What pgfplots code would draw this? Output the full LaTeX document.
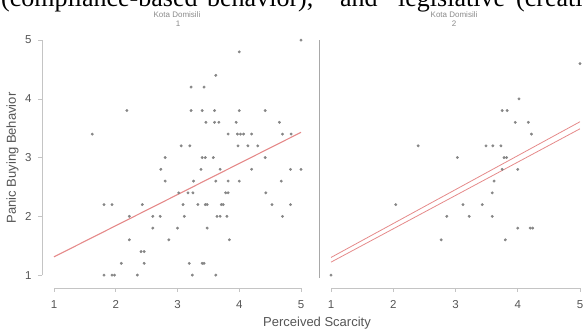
\documentclass[border=0pt]{standalone}
\usepackage{pgfplots}
\pgfplotsset{compat=1.18}
\usepackage{pgfplotstable}
\usepackage{fontspec}
\setmainfont{Liberation Sans}
\newfontfamily\seriffont{Liberation Serif}

\definecolor{ptgray}{HTML}{858585}
\definecolor{regred}{HTML}{E58A8A}
\definecolor{axgray}{HTML}{C4C4C4}
\definecolor{vgray}{HTML}{A8A8A8}
\definecolor{txtgray}{HTML}{555555}
\definecolor{ttlgray}{HTML}{8A8A8A}

\pgfplotstableread{
x y
5.00 5.0
4.00 4.8
3.62 4.4
3.22 4.2
3.43 4.2
2.18 3.8
3.22 3.8
3.40 3.8
3.60 3.8
4.00 3.8
4.42 3.8
3.46 3.6
3.60 3.6
3.67 3.6
3.95 3.6
4.65 3.6
1.62 3.4
3.82 3.4
3.97 3.4
4.02 3.4
4.07 3.4
4.20 3.4
4.70 3.4
4.84 3.4
3.06 3.2
3.20 3.2
3.98 3.2
4.14 3.2
4.30 3.2
2.80 3.0
3.40 3.0
3.45 3.0
3.58 3.0
4.42 3.0
2.73 2.8
3.38 2.8
3.69 2.8
4.20 2.8
4.83 2.8
5.00 2.8
2.80 2.6
3.26 2.6
3.62 2.6
3.82 2.6
4.00 2.6
4.68 2.6
3.02 2.4
3.17 2.4
3.25 2.4
3.78 2.4
3.82 2.4
4.43 2.4
1.81 2.2
1.94 2.2
2.43 2.2
3.09 2.2
3.33 2.2
3.45 2.2
3.48 2.2
3.71 2.2
3.74 2.2
4.53 2.2
4.83 2.2
2.22 2.0
2.60 2.0
2.72 2.0
3.11 2.0
3.64 2.0
3.69 2.0
3.80 2.0
4.70 2.0
2.60 1.8
3.00 1.8
3.48 1.8
2.22 1.6
2.86 1.6
3.84 1.6
2.41 1.4
2.46 1.4
2.09 1.2
2.46 1.2
3.19 1.2
3.40 1.2
3.43 1.2
1.81 1.0
1.94 1.0
1.98 1.0
2.35 1.0
3.24 1.0
3.62 1.0
}\leftdata

\pgfplotstableread{
x y
5.00 4.6
4.02 4.0
3.75 3.8
3.83 3.8
3.96 3.6
4.17 3.6
4.22 3.4
2.40 3.2
3.49 3.2
3.60 3.2
3.73 3.2
3.03 3.0
3.78 3.0
3.82 3.0
3.75 2.8
4.00 2.8
3.62 2.6
3.59 2.4
2.04 2.2
3.12 2.2
3.43 2.2
2.86 2.0
3.22 2.0
3.59 2.0
4.00 1.8
4.20 1.8
4.24 1.8
2.77 1.6
3.80 1.6
1.00 1.0
}\rightdata

\pgfplotsset{panel/.style={
  scale only axis,
  height=253.8pt,
  ymin=0.78, ymax=5.1,
  axis line style={draw=none},
  axis x line*=bottom, axis y line*=left,
  xtick={1,2,3,4,5},
  tick align=outside, major tick length=4pt,
  tick style={axgray, line width=0.6pt},
  tick label style={font=\fontsize{11.5}{12}\selectfont, text=txtgray},
  xticklabel style={yshift=-5pt},
  yticklabel style={xshift=-3pt},
  /pgf/number format/assume math mode=true,
  clip=false,
  anchor=south west,
}}

\begin{document}
\begin{tikzpicture}[x=1pt,y=1pt]
% top cropped text line
\begin{scope}[every node/.style={anchor=base west, inner sep=0pt, font=\seriffont\fontsize{26}{30}\selectfont}]
\node at (1,327) {(compliance-based};
\node at (207,327) {behavior),};
\node at (340,327) {and};
\node at (398,327) {legislative};
\node at (516,327) {(creative};
\end{scope}

\begin{axis}[panel, at={(42pt,46pt)}, width=262.1pt,
  xmin=0.806, xmax=5.05, ytick={1,2,3,4,5}]
\addplot[only marks, mark=*, mark size=1.25pt, ptgray, mark options={draw=none, fill=ptgray}] table[x=x,y=y] {\leftdata};
\addplot[regred, line width=1.1pt] coordinates {(1,1.31) (5,3.43)};
\draw[axgray, line width=0.7pt] (axis cs:1,0.78) -- (axis cs:5,0.78);
\draw[axgray, line width=0.7pt] (axis cs:0.806,1) -- (axis cs:0.806,5);
\end{axis}

\begin{axis}[panel, at={(319pt,46pt)}, width=264.1pt,
  xmin=0.807, xmax=5.05, ytick=\empty]
\addplot[only marks, mark=*, mark size=1.25pt, ptgray, mark options={draw=none, fill=ptgray}] table[x=x,y=y] {\rightdata};
\addplot[regred, line width=0.8pt] coordinates {(1,1.30) (5,3.61)};
\addplot[regred, line width=0.8pt] coordinates {(1,1.22) (5,3.49)};
\draw[axgray, line width=0.7pt] (axis cs:1,0.78) -- (axis cs:5,0.78);
\draw[vgray, line width=0.9pt] (axis cs:0.807,0.95) -- (axis cs:0.807,5);
\end{axis}

% panel titles
\node[font=\fontsize{8}{9}\selectfont, text=ttlgray] at (177,319.5) {Kota Domisili};
\node[font=\fontsize{8}{9}\selectfont, text=ttlgray] at (178,310.5) {1};
\node[font=\fontsize{8}{9}\selectfont, text=ttlgray] at (454,319.5) {Kota Domisili};
\node[font=\fontsize{8}{9}\selectfont, text=ttlgray] at (454,310.5) {2};
% axis labels
\node[font=\fontsize{13}{14}\selectfont, text=txtgray] at (317,11) {Perceived Scarcity};
\node[font=\fontsize{13}{14}\selectfont, text=txtgray, rotate=90] at (12.5,176) {Panic Buying Behavior};

\pgfresetboundingbox
\path[use as bounding box] (0,0) rectangle (583,334);
\end{tikzpicture}
\end{document}
